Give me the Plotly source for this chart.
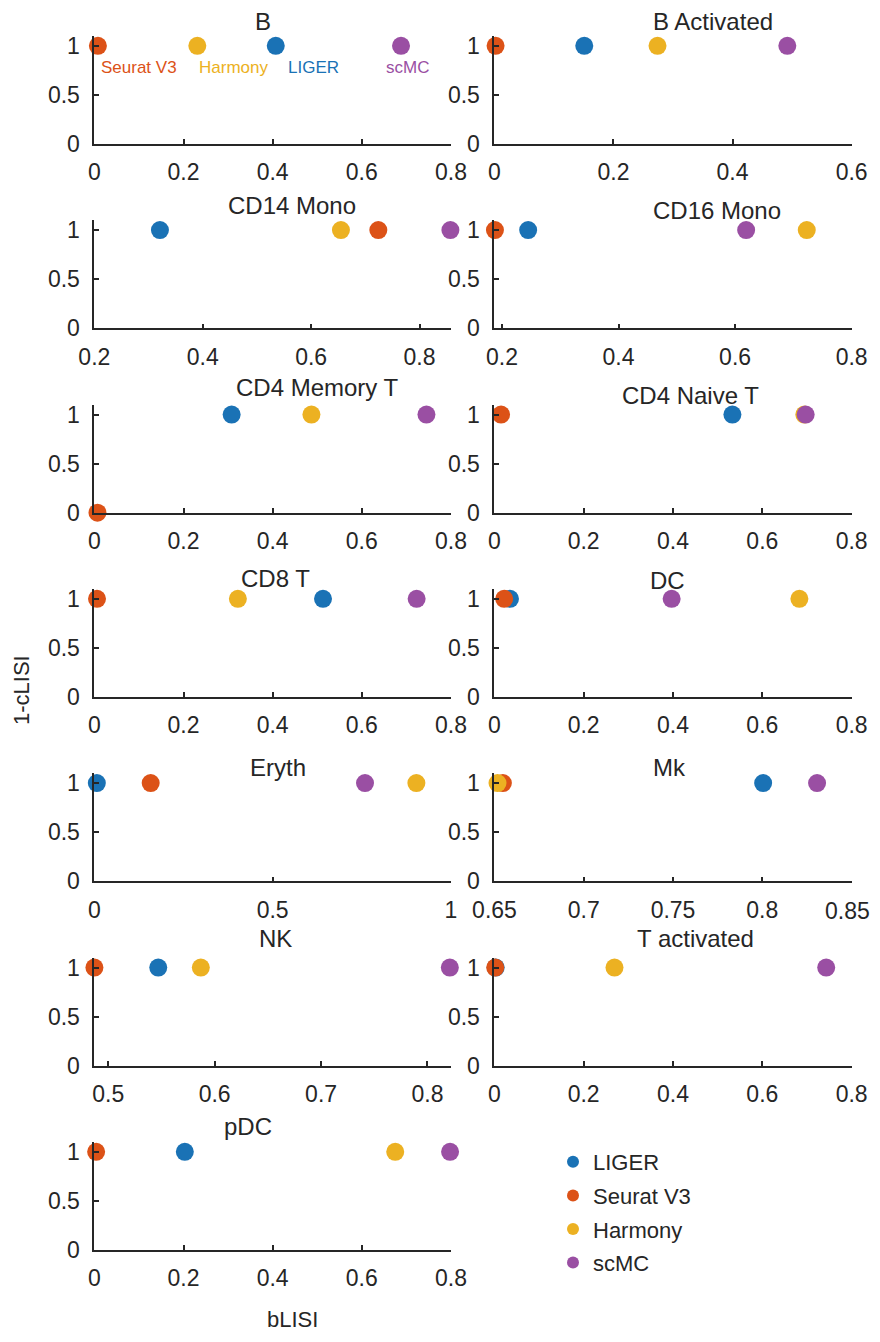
import plotly.graph_objects as go

# ---------------- data ----------------
cell_types = ["B", "B Activated", "CD14 Mono", "CD16 Mono", "CD4 Memory T", "CD4 Naive T",
              "CD8 T", "DC", "Eryth", "Mk", "NK", "T activated", "pDC"]
methods = ["LIGER", "Seurat V3", "Harmony", "scMC"]

# bLISI (x) per method, per cell type
liger_blisi   = [0.407, 0.151, 0.321, 0.245, 0.308, 0.533, 0.513, 0.035, 0.007, 0.8005, 0.547, 0.003, 0.203]
seurat_blisi  = [0.008, 0.002, 0.724, 0.188, 0.007, 0.015, 0.006, 0.022, 0.158, 0.6547, 0.487, 0.002, 0.004]
harmony_blisi = [0.231, 0.274, 0.655, 0.723, 0.487, 0.694, 0.322, 0.683, 0.903, 0.6517, 0.587, 0.269, 0.675]
scmc_blisi    = [0.688, 0.492, 0.857, 0.619, 0.745, 0.697, 0.723, 0.397, 0.759, 0.8307, 0.821, 0.743, 0.798]

# 1-cLISI (y) per method, per cell type
liger_clisi   = [1, 1, 1, 1, 1, 1, 1, 1, 1, 1, 1, 1, 1]
seurat_clisi  = [1, 1, 1, 1, 0, 1, 1, 1, 1, 1, 1, 1, 1]
harmony_clisi = [1, 1, 1, 1, 1, 1, 1, 1, 1, 1, 1, 1, 1]
scmc_clisi    = [1, 1, 1, 1, 1, 1, 1, 1, 1, 1, 1, 1, 1]

# x-axis limits and ticks per panel
x_min = [0, 0, 0.2, 0.187, 0, 0, 0, 0, 0, 0.65, 0.487, 0, 0]
x_max = [0.8, 0.6, 0.858, 0.8, 0.8, 0.8, 0.8, 0.8, 1.0, 0.85, 0.822, 0.8, 0.8]
x_ticks = [
    [0, 0.2, 0.4, 0.6, 0.8], [0, 0.2, 0.4, 0.6], [0.2, 0.4, 0.6, 0.8], [0.2, 0.4, 0.6, 0.8],
    [0, 0.2, 0.4, 0.6, 0.8], [0, 0.2, 0.4, 0.6, 0.8], [0, 0.2, 0.4, 0.6, 0.8], [0, 0.2, 0.4, 0.6, 0.8],
    [0, 0.5, 1], [0.65, 0.7, 0.75, 0.8, 0.85], [0.5, 0.6, 0.7, 0.8], [0, 0.2, 0.4, 0.6, 0.8],
    [0, 0.2, 0.4, 0.6, 0.8],
]
y_ticks = [0, 0.5, 1]

# in-panel method labels (first panel)
label_x = [0.43, 0.01, 0.23, 0.65]
label_y = 0.78

# ---------------- style / layout ----------------
# The page body has an 8px margin; the figure is sized to fit the window exactly.
OFF = 8
W, H = 880 - 2 * OFF, 1342 - 2 * OFF
colors = ["#1A72B5", "#DC5217", "#ECB122", "#9A4FA3"]
FONT = "Liberation Sans, Arial, Helvetica, sans-serif"
AX = "#262626"
EPS = 1e-4  # keeps end ticks inside the range

# positions below are in window pixels
col_x = [(94.3, 451.0), (494.3, 851.7)]
row_y0 = [144, 328.3, 512.7, 697, 881.3, 1065.7, 1250]
panel_h = 108.0
xlabel_dy = 30  # centre of x tick labels below the axis line

title_pos = [(263, 22), (713, 22), (292, 205), (717, 210), (317, 387), (690, 395),
             (275, 578), (667, 580), (278, 767), (669, 767), (275, 939), (695, 939), (248, 1126)]

def px(xw):
    return (xw - OFF) / W

def py(yw):
    return 1 - (yw - OFF) / H

def fmt(v):
    return ("%.2f" % v).rstrip("0").rstrip(".")

xs = [liger_blisi, seurat_blisi, harmony_blisi, scmc_blisi]
ys = [liger_clisi, seurat_clisi, harmony_clisi, scmc_clisi]

fig = go.Figure()
layout = dict(width=W, height=H, margin=dict(l=0, r=0, t=0, b=0, pad=0, autoexpand=False),
              paper_bgcolor="white", plot_bgcolor="white",
              font=dict(family=FONT, color=AX, size=22))
annotations = []

for i, ct in enumerate(cell_types):
    r, c = i // 2, i % 2
    n = "" if i == 0 else str(i + 1)
    x0p, x1p = col_x[c]
    y0 = row_y0[r]
    ttext = [fmt(v) for v in x_ticks[i]]
    # a label that would run past the right edge of the page is drawn as an annotation instead
    edge_label = None
    if c == 1 and len(ttext[-1]) > 3:
        edge_label = ttext[-1]
        ttext[-1] = ""
    layout["xaxis" + n] = dict(
        domain=[px(x0p), px(x1p)], anchor="y" + n, range=[x_min[i] - EPS, x_max[i] + EPS],
        tickvals=x_ticks[i], ticktext=ttext, automargin=False,
        ticklabeloverflow="allow",
        showline=True, linecolor=AX, linewidth=1.6, ticks="inside", ticklen=5,
        tickwidth=1.6, tickcolor=AX, showgrid=False, zeroline=False,
        tickfont=dict(size=23, color=AX, family=FONT), ticklabelstandoff=7)
    layout["yaxis" + n] = dict(
        domain=[py(y0), py(y0 - panel_h)], anchor="x" + n, range=[0, 1.1],
        tickvals=y_ticks, ticktext=[fmt(v) for v in y_ticks], automargin=False,
        ticklabeloverflow="allow",
        showline=True, linecolor=AX, linewidth=1.6, ticks="inside", ticklen=5,
        tickwidth=1.6, tickcolor=AX, showgrid=False, zeroline=False,
        tickfont=dict(size=23, color=AX, family=FONT), ticklabelstandoff=8)
    if edge_label is not None:
        annotations.append(dict(text=edge_label, x=1.0, y=py(y0 + xlabel_dy),
                                xref="paper", yref="paper", showarrow=False,
                                xanchor="right", yanchor="middle",
                                font=dict(size=23, color=AX, family=FONT)))
    for k, m in enumerate(methods):
        fig.add_trace(go.Scatter(
            x=[xs[k][i]], y=[ys[k][i]], mode="markers", name=m,
            marker=dict(size=18, color=colors[k], line=dict(width=0)),
            xaxis="x" + n, yaxis="y" + n, cliponaxis=False,
            showlegend=(i == 0), legendgroup=m))
    tx, ty = title_pos[i]
    annotations.append(dict(text=ct, x=px(tx), y=py(ty), xref="paper", yref="paper",
                            showarrow=False, xanchor="center", yanchor="middle",
                            font=dict(size=24, color=AX, family=FONT)))

# in-panel method labels on first panel
for k, m in enumerate(methods):
    annotations.append(dict(text=m, x=label_x[k], y=label_y, xref="x", yref="y",
                            showarrow=False, xanchor="left", yanchor="middle",
                            font=dict(size=17, color=colors[k], family=FONT)))

# axis titles
annotations.append(dict(text="1-cLISI", x=px(22), y=py(690), xref="paper", yref="paper",
                        showarrow=False, textangle=-90, xanchor="center", yanchor="middle",
                        font=dict(size=22, color=AX, family=FONT)))
annotations.append(dict(text="bLISI", x=px(292), y=py(1319), xref="paper", yref="paper",
                        showarrow=False, xanchor="center", yanchor="middle",
                        font=dict(size=22, color=AX, family=FONT)))

layout["annotations"] = annotations
layout["legend"] = dict(x=px(553), y=py(1141), xanchor="left", yanchor="top",
                        itemsizing="constant", tracegroupgap=2, bgcolor="rgba(0,0,0,0)",
                        font=dict(size=22, color=AX, family=FONT))
fig.update_layout(**layout)
fig.write_html("out.html")
